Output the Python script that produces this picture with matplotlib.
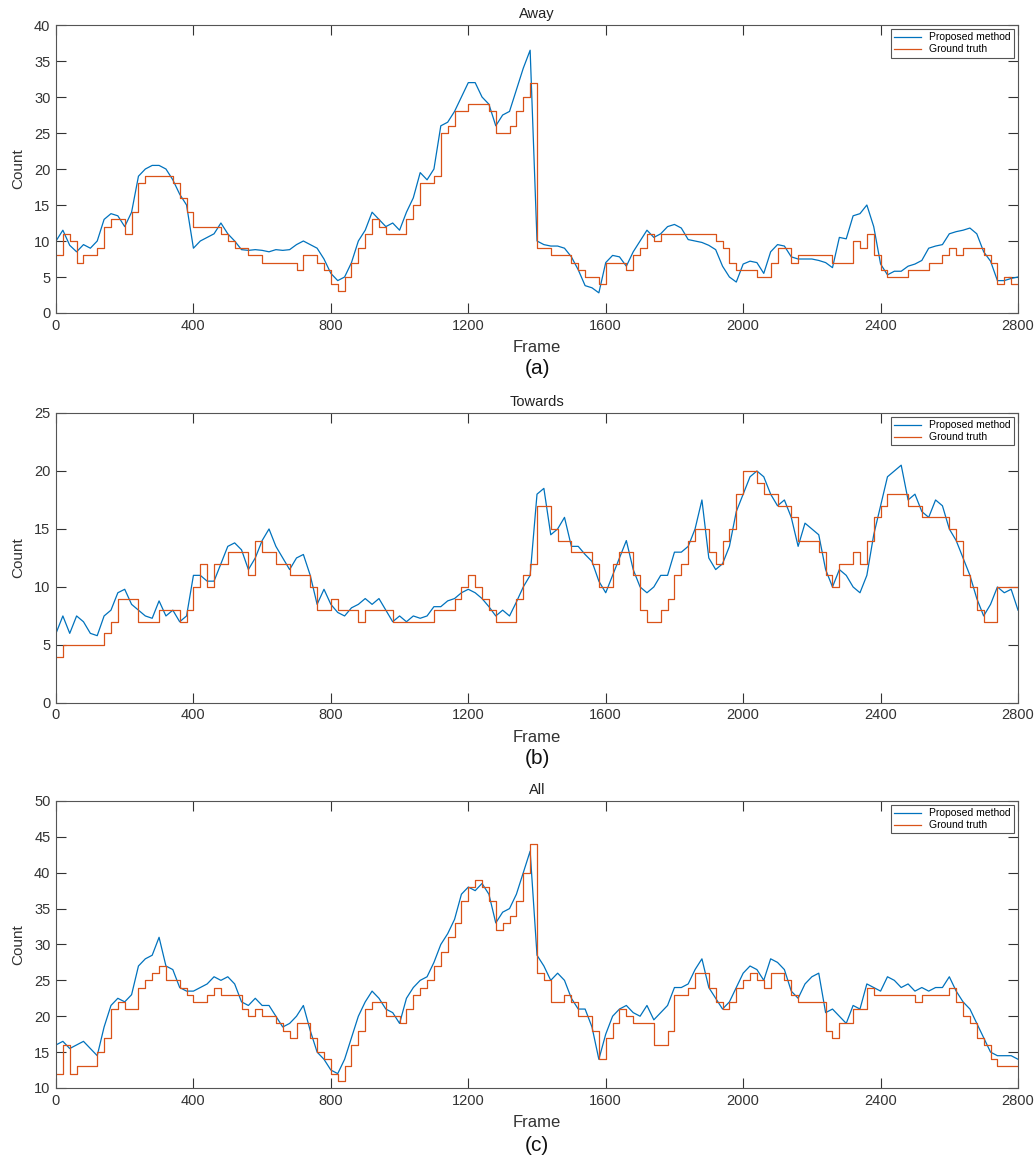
import numpy as np
import matplotlib
matplotlib.use("Agg")
import matplotlib.pyplot as plt

plt.rcParams['font.family'] = ['Liberation Sans', 'DejaVu Sans']

# frame index of every sample (one value read every 20 frames)
frames = list(range(0, 2801, 20))

# (a) Away
away_gt = [8, 11, 10, 7, 8, 8, 9, 12, 13, 13, 11, 14, 18, 19, 19, 19, 19, 18, 16, 14,
           12, 12, 12, 12, 11, 10, 9, 9, 8, 8, 7, 7, 7, 7, 7, 6, 8, 8, 7, 6,
           4, 3, 5, 7, 9, 11, 13, 12, 11, 11, 11, 13, 15, 18, 18, 19, 25, 26, 28, 28,
           29, 29, 29, 28, 25, 25, 26, 28, 30, 32, 9, 9, 8, 8, 8, 7, 6, 5, 5, 4,
           7, 7, 7, 6, 8, 9, 11, 10, 11, 11, 11, 11, 11, 11, 11, 11, 10, 9, 7, 6,
           6, 6, 5, 5, 7, 9, 9, 7, 8, 8, 8, 8, 8, 7, 7, 7, 10, 9, 11, 8,
           6, 5, 5, 5, 6, 6, 6, 7, 7, 8, 9, 8, 9, 9, 9, 8, 7, 4, 5, 4, 4]
away_pred = [10, 11.5, 9.4, 8.5, 9.5, 9, 10, 13, 13.8, 13.5, 12, 14, 19, 20, 20.5, 20.5, 20, 18.5, 16.5, 15,
             9, 10, 10.5, 11, 12.5, 11, 10, 8.8, 8.7, 8.8, 8.7, 8.5, 8.8, 8.7, 8.8, 9.5, 10, 9.5, 9, 7.5,
             5.5, 4.5, 5, 7, 10, 11.5, 14, 13, 12, 12.5, 11.5, 14, 16, 19.5, 18.5, 20, 26, 26.5, 28, 30,
             32, 32, 30, 29, 26, 27.5, 28, 31, 34, 36.5, 10, 9.5, 9.3, 9.3, 9, 7.8, 6, 3.8, 3.5, 2.8,
             7, 8, 7.8, 6.5, 8.5, 10, 11.5, 10.5, 11, 12, 12.3, 11.8, 10.2, 10, 9.8, 9.4, 8.8, 6.5, 5, 4.3,
             6.8, 7.2, 7, 5.5, 8.5, 9.5, 9.3, 7.8, 7.5, 7.5, 7.5, 7.3, 7, 6.3, 10.5, 10.3, 13.5, 13.8, 15, 12,
             6.8, 5.3, 5.8, 5.8, 6.5, 6.8, 7.3, 9, 9.3, 9.5, 11, 11.3, 11.5, 11.8, 11, 8.5, 7.2, 4.5, 4.5, 4.8, 5]

# (b) Towards
towards_gt = [4, 5, 5, 5, 5, 5, 5, 6, 7, 9, 9, 9, 7, 7, 7, 8, 8, 8, 7, 8,
              10, 12, 10, 12, 12, 13, 13, 13, 11, 14, 13, 13, 12, 12, 11, 11, 11, 10, 8, 8,
              9, 8, 8, 8, 7, 8, 8, 8, 8, 7, 7, 7, 7, 7, 7, 8, 8, 8, 9, 10,
              11, 10, 9, 8, 7, 7, 7, 9, 11, 12, 17, 17, 15, 14, 14, 13, 13, 13, 12, 10,
              10, 12, 13, 13, 11, 8, 7, 7, 8, 9, 11, 12, 14, 15, 15, 13, 12, 14, 15, 18,
              20, 20, 19, 18, 18, 17, 17, 16, 14, 14, 14, 13, 11, 10, 12, 12, 13, 12, 14, 16,
              17, 18, 18, 18, 17, 17, 16, 16, 16, 16, 15, 14, 11, 10, 8, 7, 7, 10, 10, 10, 10]
towards_pred = [6, 7.5, 6, 7.5, 7, 6, 5.8, 7.5, 8, 9.5, 9.8, 8.5, 8, 7.5, 7.3, 8.8, 7.5, 8, 7, 7.5,
                11, 11, 10.5, 10.5, 12, 13.5, 13.8, 13.2, 11.5, 12.5, 14, 15, 13.5, 12.5, 11.5, 12.5, 12.8, 11, 8.5, 9.8,
                8.5, 7.8, 7.5, 8.2, 8.5, 9, 8.5, 9, 8, 7, 7.5, 7, 7.5, 7.3, 7.5, 8.3, 8.3, 8.8, 9, 9.5,
                9.8, 9.5, 9, 8.3, 7.5, 8, 7.5, 8.7, 10, 11, 18, 18.5, 14.5, 15, 16, 13.5, 13.5, 12.8, 12.2, 10.5,
                9.5, 11, 12.5, 14, 11.5, 10, 9.5, 10, 11, 11, 13, 13, 13.5, 15, 17.5, 12.5, 11.5, 12, 13.5, 16.5,
                18, 19.5, 20, 19.5, 18, 17, 17.5, 16, 13.5, 15.5, 15, 14.5, 11.5, 10, 11.5, 11, 10, 9.5, 11, 14.5,
                17, 19.5, 20, 20.5, 17.5, 18, 16.5, 16, 17.5, 17, 15, 14, 12.5, 11, 9, 7.5, 8.5, 10, 9.5, 9.8, 8]

# (c) All
all_gt = [12, 16, 12, 13, 13, 13, 15, 17, 21, 22, 21, 21, 24, 25, 26, 27, 25, 25, 24, 23,
          22, 22, 23, 24, 23, 23, 23, 21, 20, 21, 20, 20, 19, 18, 17, 19, 19, 17, 15, 14,
          12, 11, 13, 16, 18, 21, 22, 22, 20, 20, 19, 21, 23, 24, 25, 27, 29, 31, 33, 36,
          38, 39, 38, 36, 32, 33, 34, 36, 40, 44, 26, 25, 22, 22, 23, 22, 20, 20, 18, 14,
          17, 19, 21, 20, 19, 19, 19, 16, 16, 18, 23, 23, 24, 26, 26, 24, 22, 21, 22, 24,
          25, 26, 25, 24, 26, 26, 25, 23, 22, 22, 22, 22, 18, 17, 19, 19, 21, 21, 24, 23,
          23, 23, 23, 23, 23, 22, 23, 23, 23, 23, 24, 22, 20, 19, 17, 16, 14, 13, 13, 13, 13]
all_pred = [16, 16.5, 15.5, 16, 16.5, 15.5, 14.5, 18.5, 21.5, 22.5, 22, 23, 27, 28, 28.5, 31, 27, 26.5, 24, 23.5,
            23.5, 24, 24.5, 25.5, 25, 25.5, 24.5, 22, 21.5, 22.5, 21.5, 21.5, 20, 18.5, 19, 20, 21.5, 18, 15, 14,
            12.5, 12, 14, 17, 20, 22, 23.5, 22.5, 21, 20.5, 19, 22.5, 24, 25, 25.5, 27.5, 30, 31.5, 33.5, 37,
            38, 37.5, 38.5, 37, 33, 34.5, 35, 37, 40, 43, 28.5, 27, 25, 26, 25, 22.5, 21, 21, 18.5, 14,
            17.5, 20, 21, 21.5, 20.5, 20, 21.5, 19.5, 20.5, 21.5, 24, 24, 24.5, 26.5, 28, 24, 22.5, 21, 22, 24,
            26, 27, 26.5, 25, 28, 27.5, 26.5, 23.5, 22.5, 24.5, 25.5, 26, 20.5, 21, 20, 19, 21.5, 21, 24.5, 24,
            23.5, 25.5, 25, 24, 24.5, 23.5, 24, 23.5, 24, 24, 25.5, 23.5, 22, 21, 19, 17, 15, 14.5, 14.5, 14.5, 14]

panels = [
    ("Away", away_pred, away_gt, (0, 40), np.arange(0, 41, 5), "(a)"),
    ("Towards", towards_pred, towards_gt, (0, 25), np.arange(0, 26, 5), "(b)"),
    ("All", all_pred, all_gt, (10, 50), np.arange(10, 51, 5), "(c)"),
]
# axes boxes in figure fractions: left, bottom, width, height
boxes = [(0.0541, 0.7311, 0.9295, 0.2474),
         (0.0541, 0.3961, 0.9295, 0.2491),
         (0.0541, 0.0653, 0.9295, 0.2466)]
caption_y = [0.683, 0.348, 0.0163]

blue = "#0072BD"
orange = "#D95319"
axcol = "#555555"

fig = plt.figure(figsize=(10.35, 11.64), dpi=100)

for (title, pred, gt, ylim, yticks, cap), box, cy in zip(panels, boxes, caption_y):
    ax = fig.add_axes(box)
    ax.plot(frames, pred, color=blue, lw=0.9, label="Proposed method")
    ax.plot(frames, gt, color=orange, lw=0.9, drawstyle="steps-post", label="Ground truth")
    ax.set_xlim(0, 2800)
    ax.set_ylim(*ylim)
    ax.set_xticks(np.arange(0, 2801, 400))
    ax.set_yticks(yticks)
    ax.tick_params(direction="in", length=7, width=0.8, top=True, right=True,
                   labelsize=10.5, colors="#333333", pad=4)
    for s in ax.spines.values():
        s.set_color(axcol)
        s.set_linewidth(0.8)
    ax.set_title(title, fontsize=10.5, pad=5, color="#222222")
    ax.set_xlabel("Frame", fontsize=12, labelpad=5.5, color="#333333")
    ax.set_ylabel("Count", fontsize=11, labelpad=6, color="#333333")
    leg = ax.legend(loc="upper right", fontsize=7.5, handlelength=2.6, borderaxespad=0.4,
                    fancybox=False, framealpha=1, borderpad=0.3, labelspacing=0.2)
    leg.get_frame().set_edgecolor(axcol)
    leg.get_frame().set_linewidth(0.8)
    fig.text(box[0] + box[2] / 2, cy, cap, ha="center", va="center", fontsize=15, color="#111111")

fig.savefig("out.png", dpi=100)
